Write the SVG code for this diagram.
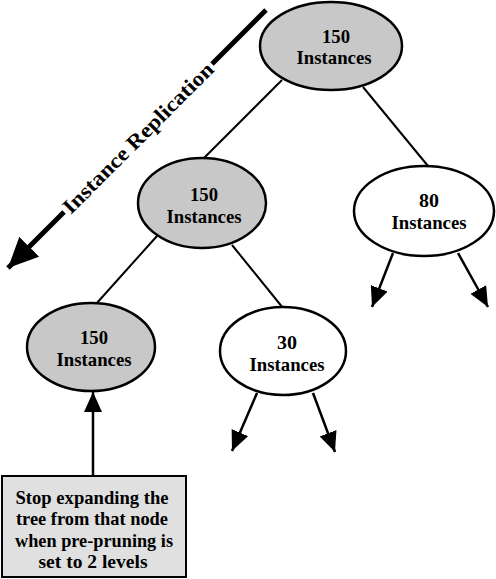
<svg xmlns="http://www.w3.org/2000/svg" width="496" height="579" viewBox="0 0 496 579">
<style>
.nd{stroke:#000;stroke-width:2.5}
.g{fill:#c8c8c8}
.w{fill:#fff}
.t{font-family:"Liberation Serif","Times New Roman",serif;font-weight:bold;font-size:19px;text-anchor:middle;fill:#000}
.c{stroke:#000;stroke-width:2;fill:none}
.a{stroke:#000;stroke-width:2.5;fill:none;marker-end:url(#ah)}
</style>
<defs>
<marker id="ah" viewBox="0 0 20 18" refX="20" refY="9" markerWidth="20" markerHeight="18" markerUnits="userSpaceOnUse" orient="auto">
<path d="M0,0 L20,9 L0,18 z" fill="#000"/>
</marker>
<marker id="big" viewBox="0 0 30 28" refX="30" refY="14" markerWidth="30" markerHeight="28" markerUnits="userSpaceOnUse" orient="auto">
<path d="M0,0 L30,14 L0,28 z" fill="#000"/>
</marker>
</defs>
<rect width="496" height="579" fill="#fff"/>
<g id="connectors">
<line class="c" x1="282" y1="80" x2="204" y2="158"/>
<line class="c" x1="363" y1="87" x2="428" y2="166"/>
<line class="c" x1="157" y1="236" x2="96" y2="304"/>
<line class="c" x1="232" y1="245" x2="283" y2="308"/>
<line class="a" x1="393" y1="253" x2="372" y2="307"/>
<line class="a" x1="458" y1="253" x2="488" y2="307"/>
<line class="a" x1="257" y1="393" x2="232" y2="451"/>
<line class="a" x1="313" y1="393" x2="335" y2="452"/>
<line class="a" x1="93" y1="476" x2="93" y2="392"/>
</g>
<g id="replication">
<line x1="266" y1="10" x2="212" y2="64" stroke="#000" stroke-width="5"/>
<line x1="64" y1="212" x2="8" y2="268" stroke="#000" stroke-width="5" marker-end="url(#big)"/>
<text class="t" transform="translate(138,138) rotate(-45)" x="0" y="7" style="font-size:21px" textLength="204" lengthAdjust="spacingAndGlyphs">Instance Replication</text>
</g>
<g id="n1">
<ellipse class="nd g" cx="331" cy="46" rx="71" ry="44"/>
<text class="t" x="336" y="43" textLength="28" lengthAdjust="spacingAndGlyphs">150</text>
<text class="t" x="334" y="64" textLength="75" lengthAdjust="spacingAndGlyphs">Instances</text>
</g>
<g id="n2">
<ellipse class="nd g" cx="202" cy="203" rx="64" ry="45"/>
<text class="t" x="204" y="201" textLength="28" lengthAdjust="spacingAndGlyphs">150</text>
<text class="t" x="204" y="223" textLength="75" lengthAdjust="spacingAndGlyphs">Instances</text>
</g>
<g id="n3">
<ellipse class="nd w" cx="424" cy="211" rx="70" ry="45"/>
<text class="t" x="429" y="207" textLength="20" lengthAdjust="spacingAndGlyphs">80</text>
<text class="t" x="429" y="229" textLength="75" lengthAdjust="spacingAndGlyphs">Instances</text>
</g>
<g id="n4">
<ellipse class="nd g" cx="91" cy="347" rx="64" ry="44"/>
<text class="t" x="94" y="344" textLength="28" lengthAdjust="spacingAndGlyphs">150</text>
<text class="t" x="94" y="366" textLength="75" lengthAdjust="spacingAndGlyphs">Instances</text>
</g>
<g id="n5">
<ellipse class="nd w" cx="283" cy="351" rx="63" ry="44"/>
<text class="t" x="287" y="349" textLength="20" lengthAdjust="spacingAndGlyphs">30</text>
<text class="t" x="287" y="371" textLength="75" lengthAdjust="spacingAndGlyphs">Instances</text>
</g>
<g id="note">
<rect x="2" y="476" width="184" height="101" fill="#e0e0e0" stroke="#000" stroke-width="2"/>
<text class="t" x="92" y="504" textLength="153" lengthAdjust="spacingAndGlyphs">Stop expanding the</text>
<text class="t" x="92" y="525" textLength="152" lengthAdjust="spacingAndGlyphs">tree from that node</text>
<text class="t" x="94" y="547" textLength="158" lengthAdjust="spacingAndGlyphs">when pre-pruning is</text>
<text class="t" x="93" y="568" textLength="109" lengthAdjust="spacingAndGlyphs">set to 2 levels</text>
</g>
</svg>
